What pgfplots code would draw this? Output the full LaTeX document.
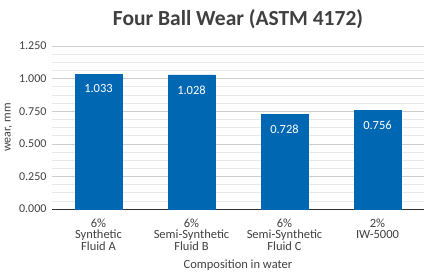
\documentclass[border=0pt]{standalone}
\usepackage{pgfplots}
\pgfplotsset{compat=1.18}
\usepackage{fontspec}
\setmainfont{Carlito}
\definecolor{barblue}{RGB}{0,103,178}
\definecolor{txt}{RGB}{64,64,64}
\definecolor{majgrid}{RGB}{205,205,205}
\definecolor{mingrid}{RGB}{232,232,232}
\begin{document}
\begin{tikzpicture}
\useasboundingbox (0pt,0pt) rectangle (428pt,274pt);
\begin{axis}[
  at={(52pt,65pt)}, anchor=south west,
  scale only axis, width=372pt, height=163pt,
  xmin=-0.5, xmax=3.5, ymin=0, ymax=1.25,
  axis x line*=bottom, axis y line*=left,
  y axis line style={draw=none},
  x axis line style={-,draw=black!80,line width=0.8pt},
  xtick={0,1,2,3}, xticklabels={{6\%\\Synthetic\\Fluid A},{6\%\\Semi-Synthetic\\Fluid B},{6\%\\Semi-Synthetic\\Fluid C},{2\%\\IW-5000}},
  x tick label style={align=center, font=\fontsize{12.5}{11.5}\selectfont, text=txt, yshift=-6pt},
  major x tick style={draw=none},
  ytick={0,0.25,0.5,0.75,1,1.25},
  minor y tick num=3,
  ymajorgrids, yminorgrids,
  major grid style={majgrid, line width=0.6pt},
  minor grid style={mingrid, line width=0.6pt},
  ytick style={draw=none}, minor tick style={draw=none},
  yticklabel style={font=\fontsize{12}{12}\selectfont, text=txt},
  yticklabels={0.000,0.250,0.500,0.750,1.000,1.250},
  y tick label style={xshift=-2pt},
  /pgf/number format/assume math mode=true,
  ylabel={wear, mm}, ylabel style={font=\fontsize{12}{12}\selectfont, text=txt},
  xlabel={Composition in water}, xlabel style={font=\fontsize{12.5}{12}\selectfont, text=txt, yshift=-3pt},
  title={Four Ball Wear (ASTM 4172)},
  title style={font=\fontsize{21.5}{24}\selectfont\bfseries, text=txt, yshift=8pt},
  clip=false,
]
\addplot[ybar, bar width=47pt, fill=barblue, draw=barblue,
  nodes near coords, point meta=explicit symbolic,
  every node near coord/.append style={font=\fontsize{12.5}{12}\selectfont, text=white, anchor=north, yshift=-7pt}]
  coordinates {(0,1.033)[1.033] (1,1.028)[1.028] (2,0.728)[0.728] (3,0.756)[0.756]};
\end{axis}
\end{tikzpicture}
\end{document}
